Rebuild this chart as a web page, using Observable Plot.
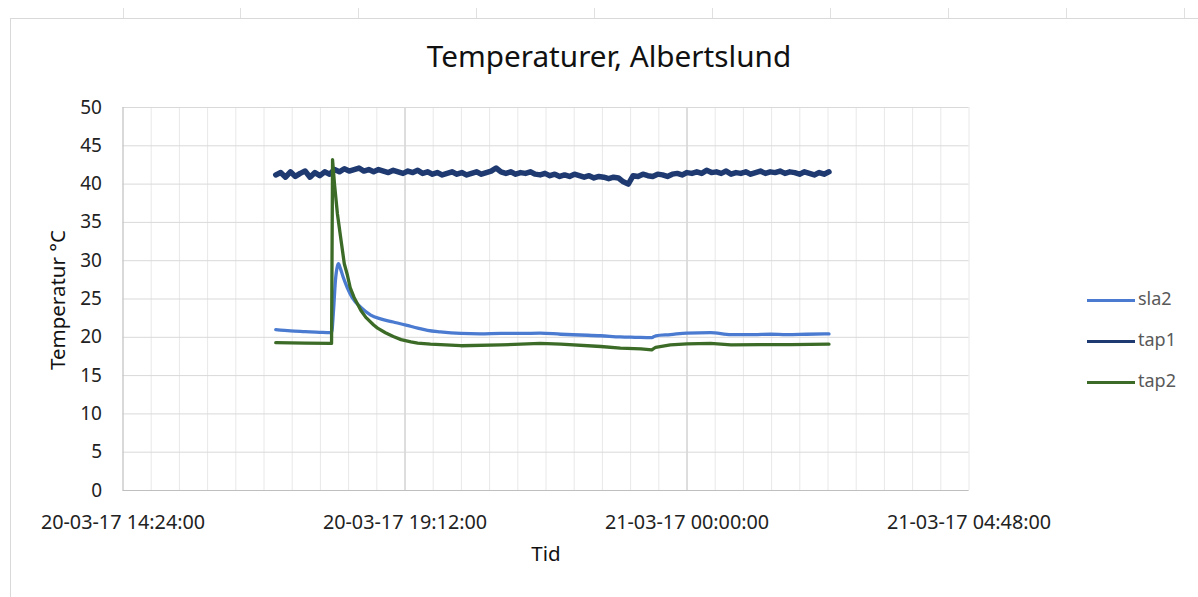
<!DOCTYPE html>
<html><head><meta charset="utf-8">
<script src="https://cdn.jsdelivr.net/npm/d3@7"></script>
<script src="https://cdn.jsdelivr.net/npm/@observablehq/plot@0.6"></script>
<style>
body{margin:0;background:#fff;font-family:"Noto Sans",sans-serif;}
#wrap{position:relative;width:1198px;height:597px;overflow:hidden;background:#fff;}
#wrap svg{position:absolute;left:0;top:0;}
.abs{position:absolute;white-space:nowrap;}
#title{left:0;width:1218px;top:35px;text-align:center;font-size:29.7px;color:#111;}
#ytitle{left:57px;top:300px;font-size:20.5px;color:#111;transform:translate(-50%,-50%) rotate(-90deg);}
#xtitle{left:546px;top:553px;font-size:20.5px;color:#111;transform:translate(-50%,-50%);}
.border-top{left:10px;top:18px;width:1188px;height:0;border-top:1px solid #d9d9d9;}
.border-left{left:10px;top:18px;width:0;height:579px;border-left:1px solid #d9d9d9;}
.stub{width:0;height:10px;top:8px;border-left:1px solid #e0e0e0;}
.leg{left:1087px;font-size:18px;color:#595959;}
.leg span.l{display:inline-block;width:48px;height:3px;vertical-align:middle;margin-right:3px;}
</style></head><body><div id="wrap"></div>
<script>
// ---- data ----
const startTime = "2017-03-20T17:00:00";
const tap1StepMinutes = 5;
const tap1Values = [
41.2,41.5,40.9,41.6,41.0,41.4,41.7,40.9,41.5,41.1,41.6,41.3,
41.9,41.6,42.0,41.7,41.9,42.1,41.7,41.9,41.6,41.9,41.7,41.5,
41.8,41.6,41.4,41.7,41.5,41.8,41.4,41.6,41.3,41.5,41.2,41.4,
41.6,41.3,41.5,41.2,41.4,41.6,41.3,41.5,41.7,42.1,41.6,41.4,
41.6,41.3,41.5,41.4,41.6,41.3,41.2,41.4,41.1,41.3,41.0,41.2,
41.0,41.3,41.1,40.9,41.1,40.8,41.0,40.9,40.7,40.9,40.8,40.3,
40.0,41.1,41.0,41.3,41.1,41.0,41.3,41.2,41.0,41.3,41.4,41.2,
41.5,41.4,41.6,41.4,41.8,41.5,41.6,41.4,41.7,41.3,41.5,41.4,
41.6,41.3,41.5,41.7,41.4,41.6,41.5,41.7,41.4,41.6,41.5,41.3,
41.6,41.4,41.2,41.5,41.3,41.6
];
const sla2Minutes = [0,15,30,45,56,57,59,61,63,64,66,69,73,78,87,97,107,120,133,145,155,168,189,209,230,250,270,291,311,332,352,367,384,388,403,420,444,465,488,505,522,542,565];
const sla2Values  = [21.0,20.85,20.75,20.65,20.6,20.6,23.5,27.5,29.3,29.6,29.0,27.8,26.5,25.2,23.9,22.9,22.4,22.0,21.6,21.2,20.9,20.7,20.5,20.45,20.5,20.5,20.55,20.4,20.3,20.2,20.05,20.0,19.95,20.2,20.35,20.55,20.6,20.35,20.35,20.4,20.35,20.4,20.45];
const tap2Minutes = [0,30,56,57,58,60,63,66,70,73,76,80,87,92,100,104,112,120,128,138,145,158,189,230,270,291,332,352,373,384,388,403,420,444,465,495,526,565];
const tap2Values  = [19.3,19.25,19.2,19.2,43.2,40.0,36.1,33.3,29.6,28.2,26.5,25.2,23.5,22.6,21.6,21.2,20.6,20.1,19.7,19.4,19.25,19.1,18.9,19.0,19.2,19.1,18.8,18.6,18.5,18.35,18.7,19.0,19.15,19.2,19.0,19.05,19.05,19.1];
const yTicks = [0,5,10,15,20,25,30,35,40,45,50];
const xTickTimes = ["2017-03-20T14:24:00","2017-03-20T19:12:00","2017-03-21T00:00:00","2017-03-21T04:48:00"];
const xTickLabels = ["20-03-17 14:24:00","20-03-17 19:12:00","21-03-17 00:00:00","21-03-17 04:48:00"];
const seriesNames = ["sla2","tap1","tap2"];
const seriesColors = ["#4a7bd0","#1f3a70","#3b6b27"];

// ---- build ----
const t0 = new Date(startTime);
const atMin = m => new Date(t0.getTime() + m * 60000);
const rows = [];
sla2Minutes.forEach((m, i) => rows.push({series: "sla2", time: atMin(m), value: sla2Values[i]}));
tap1Values.forEach((v, i) => rows.push({series: "tap1", time: atMin(i * tap1StepMinutes), value: v}));
tap2Minutes.forEach((m, i) => rows.push({series: "tap2", time: atMin(m), value: tap2Values[i]}));

const xTicks = xTickTimes.map(s => new Date(s));
const xDomain = [xTicks[0], xTicks[xTicks.length - 1]];
const minorStep = (xDomain[1] - xDomain[0]) / 30;
const minorTicks = d3.range(0, 31).map(k => new Date(xDomain[0].getTime() + k * minorStep));
const labelFor = d => xTickLabels[xTicks.findIndex(t => +t === +d)];

const chart = Plot.plot({
  width: 1198, height: 597,
  marginLeft: 122.5, marginRight: 229.5, marginTop: 107, marginBottom: 107,
  style: {fontFamily: "'Noto Sans', sans-serif", fontSize: "19px", color: "#222", background: "transparent"},
  x: {type: "time", domain: xDomain, ticks: xTicks, label: null},
  y: {domain: [0, 50], ticks: yTicks, label: null},
  color: {domain: seriesNames, range: seriesColors},
  marks: [
    Plot.ruleX(minorTicks, {stroke: "#e8e8e8", strokeWidth: 1}),
    Plot.ruleX(xTicks.slice(1, -1), {stroke: "#cfcfcf", strokeWidth: 1.2}),
    Plot.ruleY(yTicks, {stroke: "#d9d9d9", strokeWidth: 1}),
    Plot.ruleX([xDomain[0]], {stroke: "#bfbfbf", strokeWidth: 1}),
    Plot.ruleY([0], {stroke: "#bfbfbf", strokeWidth: 1}),
    Plot.axisX({ticks: xTicks, tickSize: 0, tickPadding: 24, tickFormat: labelFor, label: null, fontSize: 19.8}),
    Plot.axisY({ticks: yTicks, tickSize: 0, tickPadding: 21, label: null, fontSize: 19}),
    Plot.line(rows.filter(d => d.series === "sla2"), {x: "time", y: "value", stroke: "series", strokeWidth: 3.3, curve: "monotone-x"}),
    Plot.line(rows.filter(d => d.series === "tap1"), {x: "time", y: "value", stroke: "series", strokeWidth: 5.5}),
    Plot.line(rows.filter(d => d.series === "tap2"), {x: "time", y: "value", stroke: "series", strokeWidth: 3.3})
  ]
});

const wrap = document.getElementById("wrap");
const add = (cls, html, style) => {
  const d = document.createElement("div");
  d.className = "abs " + cls;
  if (html) d.innerHTML = html;
  if (style) Object.assign(d.style, style);
  wrap.appendChild(d);
  return d;
};
add("border-top"); add("border-left");
[123,240,358,476,594,712,830,948,1066,1184].forEach(x => add("stub", "", {left: x + "px"}));
wrap.appendChild(chart);
add("", "Temperaturer, Albertslund").id = "title";
add("", "Temperatur °C").id = "ytitle";
add("", "Tid").id = "xtitle";
const legY = [299, 340, 381];
seriesNames.forEach((name, i) => {
  add("leg", `<span class="l" style="background:${seriesColors[i]}"></span>${name}`,
      {top: (legY[i] - 13) + "px"});
});
</script></body></html>
